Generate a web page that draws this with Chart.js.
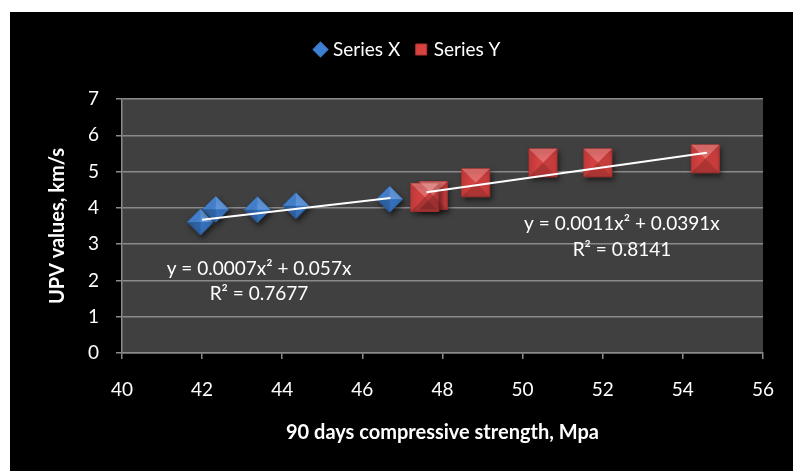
<!DOCTYPE html>
<html>
<head>
<meta charset="utf-8">
<script src="https://cdn.jsdelivr.net/npm/chart.js@4.4.0/dist/chart.umd.min.js"></script>
<style>
html, body { margin: 0; padding: 0; background: #fff; }
#box { position: absolute; left: 10px; top: 12px; width: 783px; height: 459px; background: #000; }
</style>
</head>
<body>
<div id="box"><canvas id="myChart" width="783" height="459"></canvas></div>
<script>
// values
const seriesXx = [41.96, 42.34, 43.38, 44.34, 46.68];
const seriesXy = [3.61, 3.96, 3.95, 4.06, 4.24];
const seriesYx = [47.77, 47.56, 48.83, 50.51, 51.88, 54.56];
const seriesYy = [4.34, 4.29, 4.69, 5.24, 5.24, 5.35];

// trendline ends as drawn
const trendXx = [42.0, 46.7];
const trendXy = [3.67, 4.27];
const trendYx = [47.6, 54.6];
const trendYy = [4.43, 5.52];

const eqTexts = ['y = 0.0007x\u00b2 + 0.057x', 'R\u00b2 = 0.7677', 'y = 0.0011x\u00b2 + 0.0391x', 'R\u00b2 = 0.8141'];
const eqX = [43.42, 43.42, 52.48, 52.48];
const eqY = [2.33, 1.64, 3.56, 2.84];

const xTicks = [40, 42, 44, 46, 48, 50, 52, 54, 56];
const yTicks = [0, 1, 2, 3, 4, 5, 6, 7];

const FONT = 'Lato, "Open Sans", sans-serif';

function pts(xs, ys) {
    return xs.map((x, i) => ({ x: x, y: ys[i] }));
}

// grey plot background
const plotBg = {
    id: 'plotBg',
    beforeDraw(chart) {
        const a = chart.chartArea;
        const ctx = chart.ctx;
        ctx.save();
        ctx.fillStyle = '#404040';
        ctx.fillRect(a.left, a.top, a.right - a.left, a.bottom - a.top);
        ctx.restore();
    }
};

// shadow + bevel look on the markers
const bevel = {
    id: 'bevel',
    beforeDatasetDraw(chart, args) {
        const ds = chart.data.datasets[args.index];
        if (!ds.bevel) return;
        const ctx = chart.ctx;
        ctx.save();
        ctx.shadowColor = 'rgba(0,0,0,0.55)';
        ctx.shadowBlur = 5;
        ctx.shadowOffsetX = 2;
        ctx.shadowOffsetY = 3;
    },
    afterDatasetDraw(chart, args) {
        const ds = chart.data.datasets[args.index];
        if (!ds.bevel) return;
        const ctx = chart.ctx;
        ctx.restore();
        const meta = args.meta;
        const r = ds.pointRadius;
        meta.data.forEach(p => {
            let v;
            if (ds.pointStyle === 'rectRot') {
                v = [[p.x, p.y - r], [p.x + r, p.y], [p.x, p.y + r], [p.x - r, p.y]];
            } else {
                const h = r * Math.SQRT1_2;
                v = [[p.x - h, p.y - h], [p.x + h, p.y - h], [p.x + h, p.y + h], [p.x - h, p.y + h]];
            }
            const shades = ds.pointStyle === 'rectRot'
                ? ['rgba(255,255,255,0.18)', 'rgba(0,0,0,0.12)', 'rgba(0,0,0,0.22)', 'rgba(255,255,255,0.05)']
                : ['rgba(255,255,255,0.22)', 'rgba(0,0,0,0.08)', 'rgba(0,0,0,0.2)', 'rgba(0,0,0,0.02)'];
            ctx.save();
            for (let i = 0; i < 4; i++) {
                const a = v[i], b = v[(i + 1) % 4];
                ctx.beginPath();
                ctx.moveTo(p.x, p.y);
                ctx.lineTo(a[0], a[1]);
                ctx.lineTo(b[0], b[1]);
                ctx.closePath();
                ctx.fillStyle = shades[i];
                ctx.fill();
            }
            ctx.restore();
        });
    }
};

// trendline equations
const eqLabels = {
    id: 'eqLabels',
    afterDatasetsDraw(chart) {
        const ctx = chart.ctx;
        const sx = chart.scales.x, sy = chart.scales.y;
        ctx.save();
        ctx.fillStyle = '#fff';
        ctx.font = '19px ' + FONT;
        ctx.textAlign = 'center';
        ctx.textBaseline = 'middle';
        eqTexts.forEach((t, i) => {
            ctx.fillText(t, sx.getPixelForValue(eqX[i]), sy.getPixelForValue(eqY[i]));
        });
        ctx.restore();
    }
};

// fixed legend band, nudged right like the original
const legendHeight = {
    id: 'legendHeight',
    beforeInit(chart) {
        const fit = chart.legend.fit;
        chart.legend.fit = function () {
            fit.bind(chart.legend)();
            this.height = 77;
        };
    },
    afterLayout(chart) {
        chart.legend.left += 22;
        chart.legend.right += 22;
    }
};

const ctx = document.getElementById('myChart').getContext('2d');

const myChart = new Chart(ctx, {
    type: 'scatter',
    data: {
        datasets: [
            {
                label: 'trendX',
                type: 'line',
                data: pts(trendXx, trendXy),
                borderColor: '#ffffff',
                borderWidth: 2,
                pointRadius: 0,
                fill: false
            },
            {
                label: 'trendY',
                type: 'line',
                data: pts(trendYx, trendYy),
                borderColor: '#ffffff',
                borderWidth: 2,
                pointRadius: 0,
                fill: false
            },
            {
                label: 'Series X',
                data: pts(seriesXx, seriesXy),
                pointStyle: 'rectRot',
                pointRadius: 13,
                pointHoverRadius: 13,
                backgroundColor: '#3d7fd3',
                borderColor: '#2f68b0',
                borderWidth: 1,
                bevel: true
            },
            {
                label: 'Series Y',
                data: pts(seriesYx, seriesYy),
                pointStyle: 'rect',
                pointRadius: 19.8,
                pointHoverRadius: 19.8,
                backgroundColor: '#d84342',
                borderColor: '#b33332',
                borderWidth: 1,
                bevel: true
            }
        ]
    },
    options: {
        responsive: false,
        animation: false,
        layout: { padding: { left: 0, right: 29, top: 10, bottom: 0 } },
        plugins: {
            tooltip: { enabled: false },
            legend: {
                position: 'top',
                labels: {
                    usePointStyle: true,
                    boxWidth: 6,
                    boxHeight: 11,
                    padding: 18,
                    color: '#ffffff',
                    font: { family: FONT, size: 19 },
                    filter: item => item.text.indexOf('Series') === 0
                }
            }
        },
        scales: {
            x: {
                type: 'linear',
                min: 40,
                max: 56,
                afterBuildTicks: axis => { axis.ticks = xTicks.map(v => ({ value: v })); },
                afterFit: axis => { axis.height = 118; },
                grid: { drawOnChartArea: false, drawTicks: true, tickLength: 6, color: '#8a8a8a', lineWidth: 1.5 },
                border: { color: '#8a8a8a', width: 1.5 },
                ticks: { color: '#ffffff', font: { family: FONT, size: 19 }, padding: 19 },
                title: {
                    display: true,
                    text: '90 days compressive strength, Mpa',
                    color: '#ffffff',
                    font: { family: FONT, size: 20, weight: 'bold' },
                    padding: { top: 0, bottom: 26 }
                }
            },
            y: {
                type: 'linear',
                min: 0,
                max: 7,
                afterBuildTicks: axis => { axis.ticks = yTicks.map(v => ({ value: v })); },
                afterFit: axis => { axis.width = 112; },
                grid: { drawTicks: true, tickLength: 6, color: '#8a8a8a', lineWidth: 1.5 },
                border: { color: '#8a8a8a', width: 1.5 },
                ticks: { color: '#ffffff', font: { family: FONT, size: 19 }, padding: 17 },
                title: {
                    display: true,
                    text: 'UPV values, km/s',
                    color: '#ffffff',
                    font: { family: FONT, size: 20, weight: 'bold' },
                    padding: { top: 36, bottom: 36 }
                }
            }
        }
    },
    plugins: [plotBg, bevel, eqLabels, legendHeight]
});
</script>
</body>
</html>
